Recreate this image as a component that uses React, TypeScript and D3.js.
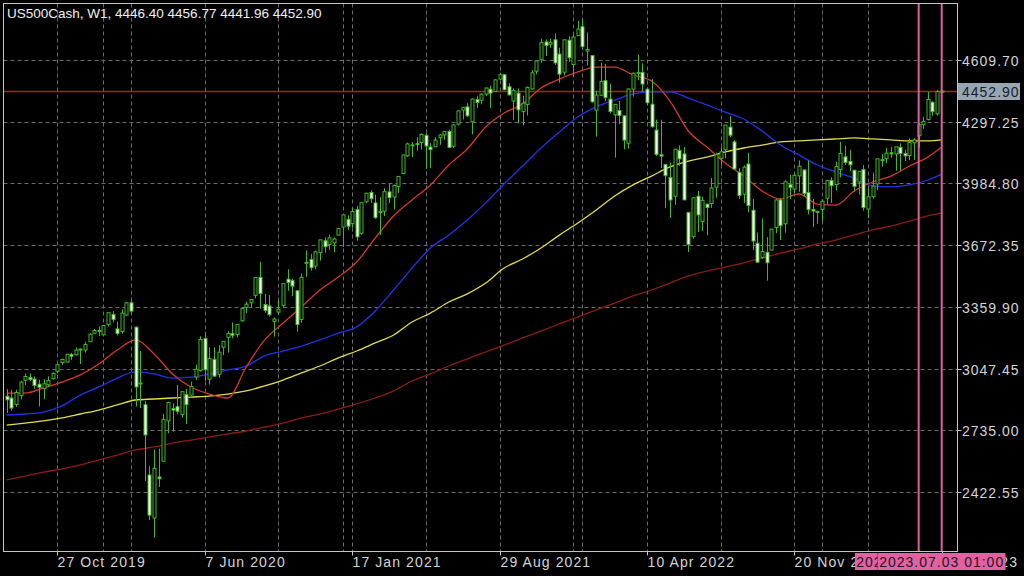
import { useEffect, useRef } from "react"
import * as d3 from "d3"

// weekly bars, first bar = week of 11 Aug 2019, last = week of 2 Jul 2023
const opens = [
  2907, 2898, 2866, 2910, 2988, 3001, 2994, 2968, 2945, 2965, 2996, 3032, 3078, 3080, 3118, 3117, 3144, 3141, 3183, 3226,
  3240, 3218, 3271, 3321, 3248, 3235, 3318, 3380, 3257, 2974, 2864, 2508, 2290, 2498, 2578, 2782, 2845, 2854, 2815, 2915,
  2913, 3004, 3038, 3199, 2993, 3094, 3018, 3155, 3205, 3224, 3219, 3289, 3357, 3380, 3418, 3509, 3371, 3364, 3285, 3333,
  3367, 3500, 3494, 3441, 3296, 3584, 3600, 3566, 3634, 3694, 3675, 3684, 3723, 3764, 3803, 3781, 3852, 3732, 3892, 3939,
  3886, 3842, 3844, 3942, 3916, 3969, 4035, 4124, 4179, 4186, 4192, 4228, 4169, 4170, 4216, 4230, 4248, 4173, 4285, 4356,
  4372, 4296, 4409, 4406, 4437, 4462, 4450, 4513, 4535, 4474, 4402, 4442, 4348, 4385, 4463, 4553, 4611, 4701, 4689, 4712,
  4640, 4548, 4710, 4587, 4733, 4778, 4655, 4632, 4356, 4431, 4505, 4412, 4332, 4354, 4327, 4188, 4462, 4541, 4547, 4462,
  4386, 4255, 4130, 4081, 4014, 3920, 4152, 4134, 3838, 3715, 3920, 3792, 3880, 3883, 3966, 4112, 4155, 4270, 4195, 4041,
  3930, 4083, 3849, 3682, 3610, 3636, 3647, 3761, 3901, 3780, 3978, 3956, 4023, 4053, 3939, 3853, 3843, 3853, 3910, 3999,
  3979, 4055, 4119, 4096, 4052, 3992, 4055, 3855, 3917, 3982, 4102, 4110, 4140, 4134, 4167, 4136, 4126, 4190, 4226, 4282,
  4308, 4396, 4337, 4446.4,
]
const highs = [
  2943, 2939, 2940, 2985, 3021, 3022, 3007, 2991, 2993, 3008, 3027, 3067, 3098, 3120, 3127, 3154, 3150, 3183, 3226, 3248,
  3260, 3268, 3329, 3338, 3285, 3347, 3385, 3393, 3259, 3136, 2882, 2553, 2637, 2641, 2818, 2880, 2871, 2964, 2932, 2945,
  2980, 3068, 3211, 3233, 3155, 3155, 3165, 3185, 3236, 3280, 3272, 3352, 3387, 3399, 3509, 3588, 3425, 3420, 3306, 3397,
  3479, 3550, 3502, 3441, 3529, 3645, 3628, 3645, 3700, 3712, 3726, 3711, 3760, 3826, 3823, 3861, 3871, 3887, 3937, 3950,
  3928, 3915, 3960, 3983, 3978, 4020, 4130, 4191, 4194, 4219, 4238, 4238, 4188, 4219, 4234, 4249, 4257, 4286, 4356, 4372,
  4393, 4415, 4429, 4440, 4470, 4480, 4513, 4546, 4536, 4492, 4466, 4466, 4429, 4475, 4559, 4608, 4718, 4714, 4718, 4744,
  4672, 4713, 4731, 4740, 4808, 4818, 4749, 4632, 4453, 4595, 4590, 4490, 4385, 4402, 4327, 4465, 4546, 4637, 4593, 4471,
  4513, 4308, 4307, 4081, 4091, 4159, 4177, 4169, 3838, 3913, 3946, 3918, 3880, 4013, 4140, 4168, 4280, 4325, 4204, 4062,
  4076, 4140, 3906, 3736, 3807, 3713, 3755, 3905, 3911, 4001, 4028, 4034, 4101, 4053, 4101, 3906, 3846, 3906, 4003, 4015,
  4094, 4195, 4176, 4156, 4052, 4048, 4078, 3964, 4039, 4110, 4133, 4164, 4170, 4170, 4187, 4155, 4213, 4213, 4290, 4322,
  4448, 4400, 4458, 4456.77,
]
const lows = [
  2822, 2834, 2853, 2891, 2964, 2985, 2946, 2855, 2892, 2953, 2991, 3023, 3066, 3078, 3091, 3113, 3070, 3128, 3183, 3223,
  3212, 3214, 3261, 3281, 3214, 3224, 3316, 3328, 2855, 2847, 2478, 2280, 2191, 2448, 2575, 2720, 2727, 2816, 2798, 2766,
  2910, 2990, 3031, 2984, 2966, 3005, 3000, 3115, 3128, 3201, 3205, 3284, 3328, 3354, 3403, 3350, 3330, 3310, 3209, 3323,
  3354, 3441, 3413, 3234, 3280, 3512, 3543, 3550, 3594, 3634, 3647, 3636, 3723, 3663, 3749, 3761, 3694, 3725, 3885, 3885,
  3805, 3723, 3819, 3885, 3853, 3937, 4035, 4118, 4118, 4151, 4156, 4057, 4062, 4170, 4180, 4206, 4165, 4165, 4278, 4309,
  4321, 4233, 4367, 4385, 4427, 4367, 4448, 4507, 4457, 4430, 4306, 4288, 4278, 4329, 4459, 4537, 4595, 4630, 4672, 4585,
  4495, 4532, 4600, 4531, 4733, 4662, 4582, 4395, 4222, 4431, 4401, 4339, 4115, 4284, 4157, 4161, 4424, 4507, 4450, 4381,
  4267, 4124, 4062, 3859, 3810, 3876, 4073, 3901, 3637, 3705, 3738, 3743, 3722, 3861, 3912, 4079, 4112, 4218, 4057, 3906,
  3886, 3838, 3647, 3584, 3602, 3492, 3647, 3733, 3698, 3735, 3906, 3938, 3942, 3918, 3828, 3764, 3780, 3794, 3877, 3885,
  3949, 4015, 4079, 4047, 3943, 3928, 3847, 3808, 3909, 3951, 4069, 4087, 4114, 4049, 4048, 4098, 4103, 4103, 4166, 4261,
  4304, 4328, 4328, 4441.96,
]
const closes = [
  2889, 2847, 2926, 2979, 3007, 2992, 2962, 2952, 2970, 2986, 3023, 3067, 3093, 3120, 3110, 3141, 3146, 3169, 3221, 3240,
  3235, 3265, 3330, 3295, 3225, 3328, 3380, 3338, 2954, 2972, 2711, 2305, 2541, 2489, 2790, 2875, 2837, 2831, 2930, 2864,
  2956, 3044, 3194, 3041, 3098, 3009, 3130, 3185, 3225, 3216, 3271, 3351, 3373, 3397, 3508, 3427, 3341, 3320, 3298, 3348,
  3477, 3483, 3465, 3270, 3509, 3585, 3558, 3638, 3699, 3664, 3709, 3703, 3756, 3825, 3768, 3842, 3714, 3887, 3935, 3907,
  3811, 3842, 3943, 3913, 3975, 4020, 4129, 4185, 4180, 4181, 4233, 4174, 4156, 4204, 4230, 4247, 4167, 4281, 4352, 4370,
  4327, 4412, 4395, 4437, 4468, 4442, 4509, 4535, 4459, 4433, 4455, 4357, 4391, 4471, 4545, 4605, 4698, 4683, 4698, 4595,
  4538, 4712, 4621, 4726, 4766, 4677, 4663, 4398, 4432, 4501, 4419, 4349, 4385, 4329, 4204, 4463, 4543, 4546, 4488, 4393,
  4272, 4132, 4123, 4024, 3901, 4158, 4109, 3901, 3675, 3912, 3825, 3899, 3863, 3962, 4130, 4145, 4280, 4229, 4058, 3924,
  4067, 3873, 3693, 3586, 3640, 3583, 3753, 3901, 3771, 3993, 3965, 4026, 4072, 3934, 3852, 3845, 3840, 3895, 3999, 3973,
  4071, 4137, 4091, 4079, 3970, 4046, 3862, 3917, 3971, 4109, 4105, 4138, 4134, 4170, 4136, 4124, 4192, 4205, 4282, 4299,
  4410, 4348, 4450, 4452.9,
]

// moving averages, one value every 4th bar plus the last bar
const maBars = [...d3.range(0, 201, 4), 203]
const ma20 = [
  2923, 2923, 2949, 2979, 3015, 3070, 3141, 3192, 3121, 3020, 2954, 2918, 2898, 3055, 3192, 3278, 3359, 3445, 3511, 3587,
  3708, 3820, 3901, 3977, 4078, 4159, 4270, 4341, 4387, 4468, 4513, 4549, 4574, 4574, 4534, 4503, 4402, 4250, 4169, 4088,
  4022, 3946, 3906, 3931, 3880, 3875, 3946, 3992, 4022, 4073, 4118, 4169,
]
const ma50 = [
  2812, 2817, 2827, 2858, 2913, 2954, 2999, 3030, 3020, 2999, 3004, 3020, 3040, 3060, 3111, 3136, 3161, 3192, 3227, 3258,
  3339, 3445, 3556, 3658, 3723, 3799, 3886, 3982, 4073, 4164, 4245, 4321, 4372, 4407, 4438, 4448, 4448, 4417, 4382, 4346,
  4311, 4250, 4179, 4129, 4078, 4043, 4012, 3972, 3967, 3977, 4002, 4032,
]
const ma100 = [
  2761, 2771, 2782, 2797, 2817, 2837, 2863, 2888, 2893, 2898, 2903, 2908, 2918, 2934, 2959, 2989, 3025, 3060, 3101, 3136,
  3177, 3217, 3283, 3328, 3384, 3425, 3480, 3556, 3602, 3658, 3723, 3784, 3850, 3921, 3977, 4022, 4068, 4098, 4118, 4144,
  4164, 4179, 4195, 4200, 4205, 4210, 4215, 4210, 4205, 4200, 4200, 4205,
]
const ma200 = [
  2483, 2503, 2523, 2539, 2559, 2584, 2609, 2635, 2650, 2670, 2685, 2701, 2716, 2731, 2751, 2771, 2797, 2817, 2842, 2868,
  2898, 2934, 2984, 3020, 3060, 3096, 3131, 3166, 3202, 3237, 3273, 3308, 3344, 3379, 3415, 3445, 3480, 3516, 3541, 3561,
  3582, 3607, 3632, 3653, 3678, 3698, 3724, 3749, 3769, 3794, 3820, 3835,
]

const priceTicks = [4609.7, 4297.25, 3984.8, 3672.35, 3359.9, 3047.45, 2735.0, 2422.55]
const dateTickBars = [11, 43, 75, 107, 139, 171, 203]
const dateTickLabels = ["27 Oct 2019", "7 Jun 2020", "17 Jan 2021", "29 Aug 2021", "10 Apr 2022", "20 Nov 2022", "2 Jul 2023"]
const gridBars = [11, 27, 43, 59, 75, 91, 107, 123, 139, 155, 171, 187]
const yearBars = [21, 73, 125, 177]
const markerBars = [198, 203]
const markerLabels = ["2023.05.29 01:00", "2023.07.03 01:00"]
const title = "US500Cash, W1, 4446.40 4456.77 4441.96 4452.90"
const lastPrice = 4452.9

const FONT = "'Liberation Sans', Arial, sans-serif"

export default function App() {
  const svgRef = useRef<SVGSVGElement>(null)

  useEffect(() => {
    if (!svgRef.current) return
    const svg = d3.select(svgRef.current)
    svg.selectAll("*").remove()

    const W = 1024
    const H = 576
    const left = 3.5
    const right = 957.5
    const top = 3.5
    const bottom = 551.5

    const x = d3.scaleLinear().domain([0, 203]).range([6.7, 941.7])
    const y = d3.scaleLinear().domain([2422.55, 4609.7]).range([491.9, 60])

    svg.append("rect").attr("width", W).attr("height", H).attr("fill", "#000")

    const defs = svg.append("defs")
    defs
      .append("clipPath")
      .attr("id", "plot")
      .append("rect")
      .attr("x", left)
      .attr("y", top)
      .attr("width", right - left)
      .attr("height", bottom - top)

    // grid
    const grid = svg.append("g").attr("stroke", "#6c6c6c").attr("stroke-dasharray", "4,3").attr("stroke-width", 1)
    ;[...gridBars, ...yearBars].forEach((b) => {
      const gx = Math.round(x(b)) + 0.5
      grid.append("line").attr("x1", gx).attr("x2", gx).attr("y1", top).attr("y2", bottom)
    })
    priceTicks.forEach((p) => {
      const gy = Math.round(y(p)) + 0.5
      grid.append("line").attr("x1", left).attr("x2", right).attr("y1", gy).attr("y2", gy)
    })

    const plot = svg.append("g").attr("clip-path", "url(#plot)")

    // last price line
    const ly = Math.round(y(lastPrice)) + 0.5
    plot
      .append("line")
      .attr("x1", left)
      .attr("x2", right)
      .attr("y1", ly)
      .attr("y2", ly)
      .attr("stroke", "#a82424")
      .attr("stroke-width", 1.5)

    // moving averages
    const maLine = d3
      .line<number>()
      .x((_, k) => x(maBars[k]))
      .y((d) => y(d))
      .curve(d3.curveMonotoneX)
    const maSeries: [number[], string][] = [
      [ma200, "#8c1d16"],
      [ma100, "#e2dc4a"],
      [ma50, "#2232e8"],
      [ma20, "#d23a2c"],
    ]
    maSeries.forEach(([vals, color]) => {
      plot
        .append("path")
        .attr("d", maLine(vals))
        .attr("fill", "none")
        .attr("stroke", color)
        .attr("stroke-width", 1.3)
    })

    // candles
    const green = "#3fb821"
    opens.forEach((o, i) => {
      const c = closes[i]
      const cx = Math.round(x(i))
      plot
        .append("line")
        .attr("x1", cx + 0.5)
        .attr("x2", cx + 0.5)
        .attr("y1", y(highs[i]))
        .attr("y2", y(lows[i]))
        .attr("stroke", green)
        .attr("stroke-width", 1)
      const yTop = y(Math.max(o, c))
      const yBot = y(Math.min(o, c))
      plot
        .append("rect")
        .attr("x", cx - 1)
        .attr("y", yTop)
        .attr("width", 3)
        .attr("height", Math.max(1, yBot - yTop))
        .attr("fill", c >= o ? "#000" : "#ffffff")
        .attr("stroke", green)
        .attr("stroke-width", 1)
    })

    // vertical marker lines
    markerBars.forEach((b) => {
      const mx = x(b)
      plot
        .append("line")
        .attr("x1", mx)
        .attr("x2", mx)
        .attr("y1", top)
        .attr("y2", bottom)
        .attr("stroke", "#df5fa0")
        .attr("stroke-width", 2)
    })

    // frame
    svg
      .append("rect")
      .attr("x", left)
      .attr("y", top)
      .attr("width", right - left)
      .attr("height", bottom - top)
      .attr("fill", "none")
      .attr("stroke", "#c4c4c4")
      .attr("stroke-width", 1)

    // price axis
    priceTicks.forEach((p) => {
      const py = Math.round(y(p)) + 0.5
      svg
        .append("line")
        .attr("x1", right)
        .attr("x2", right + 4)
        .attr("y1", py)
        .attr("y2", py)
        .attr("stroke", "#c4c4c4")
      svg
        .append("text")
        .attr("x", 962)
        .attr("y", py + 5)
        .attr("fill", "#d4d4d4")
        .attr("font-family", FONT)
        .attr("font-size", 14)
        .attr("letter-spacing", 1)
        .text(p.toFixed(2))
    })

    // last price label
    svg
      .append("rect")
      .attr("x", 958)
      .attr("y", ly - 8.5)
      .attr("width", 62)
      .attr("height", 17)
      .attr("fill", "#97a6b5")
    svg
      .append("text")
      .attr("x", 962)
      .attr("y", ly + 5)
      .attr("fill", "#1c1c1c")
      .attr("font-family", FONT)
      .attr("font-size", 14)
      .attr("letter-spacing", 1)
      .text(lastPrice.toFixed(2))

    // date axis
    dateTickBars.forEach((b, k) => {
      const tx = Math.round(x(b)) + 0.5
      svg
        .append("line")
        .attr("x1", tx)
        .attr("x2", tx)
        .attr("y1", bottom)
        .attr("y2", bottom + 4)
        .attr("stroke", "#c4c4c4")
      svg
        .append("text")
        .attr("x", tx)
        .attr("y", 567)
        .attr("fill", "#d4d4d4")
        .attr("font-family", FONT)
        .attr("font-size", 14)
        .attr("letter-spacing", 1.1)
        .text(dateTickLabels[k])
    })

    // marker date labels, each clipped to the part of its box left visible
    markerBars.forEach((b, k) => {
      const mx = x(b)
      const boxLeft = mx - 64
      const nextLeft = k + 1 < markerBars.length ? x(markerBars[k + 1]) - 64 : mx + 64
      const clipId = `marker-${k}`
      defs
        .append("clipPath")
        .attr("id", clipId)
        .append("rect")
        .attr("x", boxLeft)
        .attr("y", 553)
        .attr("width", nextLeft - boxLeft)
        .attr("height", 17)
      const g = svg.append("g").attr("clip-path", `url(#${clipId})`)
      g.append("rect")
        .attr("x", boxLeft)
        .attr("y", 553)
        .attr("width", 128)
        .attr("height", 17)
        .attr("fill", "#e261a2")
      g.append("text")
        .attr("x", mx)
        .attr("y", 567)
        .attr("text-anchor", "middle")
        .attr("fill", "#1a1a1a")
        .attr("font-family", FONT)
        .attr("font-size", 14)
        .attr("letter-spacing", 1)
        .text(markerLabels[k])
    })

    // title
    svg
      .append("text")
      .attr("x", 7)
      .attr("y", 18)
      .attr("fill", "#f0f0f0")
      .attr("font-family", FONT)
      .attr("font-size", 13.5)
      .text(title)
  }, [])

  return (
    <svg
      ref={svgRef}
      width={1024}
      height={576}
      style={{ position: "absolute", left: 0, top: 0, display: "block" }}
    />
  )
}
